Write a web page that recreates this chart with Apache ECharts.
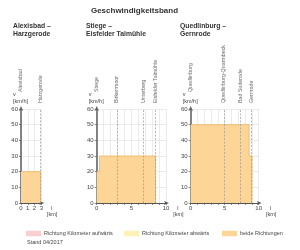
<!DOCTYPE html>
<html><head><meta charset="utf-8">
<script src="https://cdn.jsdelivr.net/npm/echarts@6/dist/echarts.min.js"></script>
<style>html,body{margin:0;padding:0;background:#fff}#c{width:300px;height:250px}</style>
</head><body><div id="c"></div>
<script>
// Data
var panelTitles = ['Alexisbad –\nHarzgerode', 'Stiege –\nEisfelder Talmühle', 'Quedlinburg –\nGernrode'];
var xMax = [3, 10, 10];
var profileKm1 = [0, 2.9, 2.9];
var profileV1  = [20, 20, 0];
var profileKm2 = [0, 0.4, 0.4, 8.5, 8.5];
var profileV2  = [20, 20, 30, 30, 0];
var profileKm3 = [0, 8.6, 8.6, 9.0, 9.0];
var profileV3  = [50, 50, 30, 30, 0];
var stations1 = ['Alexisbad', 'Harzgerode'];
var stationKm1 = [0, 2.9];
var stations2 = ['Stiege', 'Birkenmoor', 'Unterberg', 'Eisfelder Talmühle'];
var stationKm2 = [0, 2.9, 6.7, 8.5];
var stations3 = ['Quedlinburg', 'Quedlinburg-Quarmbeck', 'Bad Suderode', 'Gernrode'];
var stationKm3 = [0, 4.9, 7.3, 8.9];
var yTicks = [0, 10, 20, 30, 40, 50, 60];
var legendNames = ['Richtung Kilometer aufwärts', 'Richtung Kilometer abwärts', 'beide Richtungen'];
var legendColors = ['#f9cfcf', '#fff1b5', '#fdd596'];

var profiles = [[profileKm1, profileV1], [profileKm2, profileV2], [profileKm3, profileV3]];
var stations = [[stations1, stationKm1], [stations2, stationKm2], [stations3, stationKm3]];

var FONT = 'Liberation Sans, Arial, sans-serif';
var grids = [
  {left: 21, top: 109, width: 20.3, height: 94},
  {left: 96.7, top: 109, width: 69.3, height: 94},
  {left: 190.7, top: 109, width: 68, height: 94}
];
var titleX = [13, 86, 180];
var legendX = [26, 124, 222];

var option = {
  animation: false,
  textStyle: {fontFamily: FONT},
  title: [{text: 'Geschwindigkeitsband', left: 134.5, top: 7, textAlign: 'center', padding: 0,
           textStyle: {fontSize: 8, fontWeight: 'bold', color: '#333', fontFamily: FONT}}]
    .concat(panelTitles.map(function(t, i){
      return {text: t, left: titleX[i], top: 22.5, padding: 0, textStyle: {fontSize: 6.8, fontWeight: 'bold', color: '#333', lineHeight: 7.6, fontFamily: FONT}};
    }))
    .concat([{text: 'Stand 04/2017', left: 27, top: 239, padding: 0, textStyle: {fontSize: 5.5, fontWeight: 'normal', color: '#444', fontFamily: FONT}}]),
  grid: grids,
  legend: legendNames.map(function(n, i){
    return {data: [n], left: legendX[i], top: 230.5, icon: 'rect', itemWidth: 15, itemHeight: 5.5,
      selectedMode: false, padding: 0,
      textStyle: {fontSize: 5.5, color: '#444', padding: [0, 0, 0, -2], fontFamily: FONT}};
  }),
  xAxis: xMax.map(function(m, i){
    return {type: 'value', gridIndex: i, min: 0, max: m, interval: 1,
      name: '{l|l}\n{u|[km]}', nameLocation: 'end', nameGap: 1,
      nameTextStyle: {align: 'left', verticalAlign: 'top', padding: [2, 0, 0, 0],
        rich: {l: {fontSize: 5.5, color: '#444', padding: [0, 0, 0, 4], lineHeight: 6}, u: {fontSize: 5.5, color: '#444', lineHeight: 6}}},
      axisLine: {show: true, lineStyle: {color: '#555', width: 1}, symbol: ['none', 'arrow'], symbolSize: [3, 5], symbolOffset: [0, 3]},
      axisTick: {show: true, length: 2, lineStyle: {color: '#555', width: 0.7},
        interval: function(idx, v){ return m <= 3 || v % 5 === 0; }},
      axisLabel: {fontSize: 6, color: '#444', margin: 2,
        formatter: function(v){ return (m <= 3 || v % 5 === 0) ? String(v) : ''; }},
      splitLine: {show: true, lineStyle: {color: '#e2e2e2', width: 0.7}}
    };
  }),
  yAxis: xMax.map(function(m, i){
    return {type: 'value', gridIndex: i, min: yTicks[0], max: yTicks[yTicks.length - 1], interval: 10,
      name: 'v\n[km/h]', nameLocation: 'end', nameGap: 4,
      nameTextStyle: {align: 'left', verticalAlign: 'bottom', fontSize: 5.5, color: '#444', lineHeight: 7, padding: [0, 0, 0, -8]},
      axisLine: {show: true, lineStyle: {color: '#666', width: 1.6}, symbol: ['none', 'arrow'], symbolSize: [3.5, 5], symbolOffset: [0, 3]},
      axisTick: {show: true, length: 2, lineStyle: {color: '#555', width: 0.7}},
      axisLabel: {fontSize: 6, color: '#444', margin: 3},
      splitLine: {show: true, lineStyle: {color: '#e2e2e2', width: 0.7}}
    };
  }),
  series: []
};

profiles.forEach(function(p, i){
  var data = p[0].map(function(k, j){ return [k, p[1][j]]; });
  var st = stations[i];
  option.series.push({
    type: 'line', xAxisIndex: i, yAxisIndex: i, data: data, symbol: 'none', z: 2,
    lineStyle: {color: '#f2b45e', width: 0.8},
    areaStyle: {color: '#fdd596', opacity: 1},
    markLine: {silent: true, symbol: 'none', label: {show: false},
      lineStyle: {color: '#9a9a9a', type: [2, 1.5], width: 0.7},
      data: st[1].filter(function(k){ return k > 0; }).map(function(k){ return {xAxis: k}; })}
  });
  option.series.push({
    type: 'scatter', xAxisIndex: i, yAxisIndex: i, symbolSize: 0, z: 5,
    data: st[1].map(function(k, j){
      return {value: [k, 60], name: st[0][j],
        label: {distance: k === 0 ? 17 : 6}};
    }),
    label: {show: true, position: 'top', rotate: 90, align: 'left', verticalAlign: 'middle',
      fontSize: 5.3, color: '#444', formatter: function(d){ return d.name; }}
  });
});

legendNames.forEach(function(n, i){
  option.series.push({name: n, type: 'bar', xAxisIndex: 0, yAxisIndex: 0, data: [], itemStyle: {color: legendColors[i]}});
});

var chart = echarts.init(document.getElementById('c'), null, {renderer: 'canvas'});
chart.setOption(option);
</script></body></html>
